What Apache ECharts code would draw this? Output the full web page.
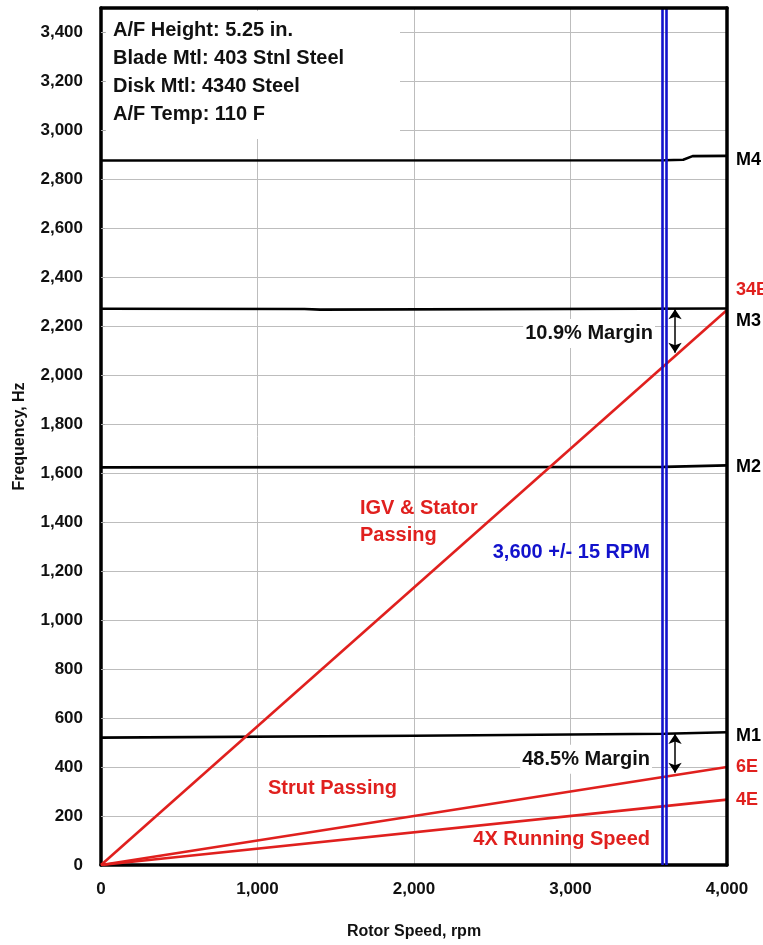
<!DOCTYPE html>
<html>
<head>
<meta charset="utf-8">
<script src="https://cdn.jsdelivr.net/npm/echarts@6/dist/echarts.min.js"></script>
<style>
  html, body { margin: 0; padding: 0; background: #fff; }
  #chart { width: 763px; height: 945px; }
</style>
</head>
<body>
<div id="chart"></div>
<script>
// values (rpm, Hz)
var m4 = [[0, 2877], [3600, 2878], [3720, 2880], [3780, 2895], [4000, 2896]];
var m3 = [[0, 2272], [1300, 2271], [1400, 2268], [4000, 2273]];
var m2 = [[0, 1624], [3600, 1626], [4000, 1632]];
var m1 = [[0, 520], [2000, 528], [3600, 536], [4000, 542]];
var e34 = [[0, 0], [4000, 2267]];
var e6 = [[0, 0], [4000, 400]];
var e4 = [[0, 0], [4000, 267]];
var speedBand = [3585, 3615];
var margin34 = [[3668, 2270], [3668, 2092]];
var margin6 = [[3668, 535], [3668, 377]];
var redNotesLeft = [[1655, 1399, 'IGV & Stator\nPassing'], [1067, 314, 'Strut Passing']];
var redNotesRight = [[3508, 106, '4X Running Speed']];
var blueNotes = [[3508, 1277, '3,600 +/- 15 RPM']];
var marginNotes = [[3540, 2171, '10.9% Margin'], [3521, 432, '48.5% Margin']];
var boxLines = ['A/F Height: 5.25 in.', 'Blade Mtl: 403 Stnl Steel', 'Disk Mtl: 4340 Steel', 'A/F Temp: 110 F'];

var FONT = '"Liberation Sans", Arial, sans-serif';
var RED = '#e0201e';
var BLUE = '#1212cc';

function commas(v) {
  return String(v).replace(/\B(?=(\d{3})+(?!\d))/g, ',');
}

function modeLine(name, data, label, dy, color) {
  return {
    name: name, type: 'line', data: data, symbol: 'none', silent: true,
    lineStyle: { color: color, width: 2.6 },
    z: 3,
    endLabel: {
      show: true, formatter: label, distance: 9, offset: [0, dy],
      color: color, fontFamily: FONT, fontWeight: 'bold', fontSize: 18
    }
  };
}

function noteSeries(data, pos, color, bg) {
  return {
    type: 'scatter', symbolSize: 0, silent: true, z: 6,
    itemStyle: { opacity: 1 },
    data: data.map(function (d) { return [d[0], d[1], d[2]]; }),
    label: {
      show: true, position: pos, distance: 0,
      formatter: function (p) { return p.data[2]; },
      color: color, fontFamily: FONT, fontWeight: 'bold', fontSize: 20,
      lineHeight: 27, backgroundColor: bg || 'transparent', padding: bg ? [1, 2] : 0
    }
  };
}

function arrowSeries(pts) {
  return {
    type: 'line', data: [], silent: true, z: 5,
    markLine: {
      silent: true, symbol: ['arrow', 'arrow'], symbolSize: 10,
      label: { show: false },
      lineStyle: { color: '#000', width: 1.5, type: 'solid' },
      data: [[{ coord: pts[0] }, { coord: pts[1] }]]
    }
  };
}

var boxText = boxLines.map(function (t, i) {
  return {
    type: 'text', left: 113, top: 20 + i * 28, z: 2,
    style: { text: t, fill: '#111', font: 'bold 20px ' + FONT }
  };
});

var edge = { show: true, onZero: false, lineStyle: { color: '#000', width: 3.5 } };

var chart = echarts.init(document.getElementById('chart'));
chart.setOption({
  animation: false,
  backgroundColor: '#fff',
  grid: { left: 101, right: 36, top: 8, bottom: 79 },
  xAxis: [{
    type: 'value', min: 0, max: 4000, interval: 1000,
    name: 'Rotor Speed, rpm', nameLocation: 'middle', nameGap: 59,
    nameTextStyle: { color: '#111', fontFamily: FONT, fontWeight: 'bold', fontSize: 16 },
    axisLine: edge,
    axisTick: { show: false },
    axisLabel: { margin: 16, color: '#111', fontFamily: FONT, fontWeight: 'bold', fontSize: 17, formatter: commas },
    splitLine: { lineStyle: { color: '#bdbdbd', width: 1 } }
  }, {
    type: 'value', min: 0, max: 4000, position: 'top', z: 5,
    axisLine: edge,
    axisTick: { show: false }, axisLabel: { show: false }, splitLine: { show: false }
  }],
  yAxis: [{
    type: 'value', min: 0, max: 3500, interval: 200,
    name: 'Frequency, Hz', nameLocation: 'middle', nameGap: 73,
    nameTextStyle: { color: '#111', fontFamily: FONT, fontWeight: 'bold', fontSize: 16 },
    axisLine: edge,
    axisTick: { show: true, inside: true, length: 4, lineStyle: { color: '#aaa' } },
    axisLabel: {
      margin: 18, color: '#111', fontFamily: FONT, fontWeight: 'bold', fontSize: 17,
      formatter: function (v) { return v > 3400 ? '' : commas(v); }
    },
    splitLine: { lineStyle: { color: '#bdbdbd', width: 1 } }
  }, {
    type: 'value', min: 0, max: 3500, position: 'right', z: 5,
    axisLine: edge,
    axisTick: { show: false }, axisLabel: { show: false }, splitLine: { show: false }
  }],
  graphic: [{
    type: 'rect', left: 106, top: 11, z: 1, shape: { width: 294, height: 128 },
    style: { fill: '#fff' }
  }].concat(boxText),
  series: [
    modeLine('M4', m4, 'M4', 4, '#000'),
    modeLine('M3', m3, 'M3', 13, '#000'),
    modeLine('M2', m2, 'M2', 2, '#000'),
    modeLine('M1', m1, 'M1', 4, '#000'),
    modeLine('34E', e34, '34E', -20, RED),
    modeLine('6E', e6, '6E', 0, RED),
    modeLine('4E', e4, '4E', 0, RED),
    {
      type: 'line', data: [], silent: true, z: 4,
      markLine: {
        silent: true, symbol: 'none', label: { show: false },
        lineStyle: { color: BLUE, width: 2.6, type: 'solid' },
        data: speedBand.map(function (s) { return { xAxis: s }; })
      }
    },
    arrowSeries(margin34),
    arrowSeries(margin6),
    noteSeries(redNotesLeft, 'right', RED),
    noteSeries(redNotesRight, 'left', RED),
    noteSeries(blueNotes, 'left', BLUE),
    noteSeries(marginNotes, 'left', '#111', '#fff')
  ]
});
</script>
</body>
</html>
